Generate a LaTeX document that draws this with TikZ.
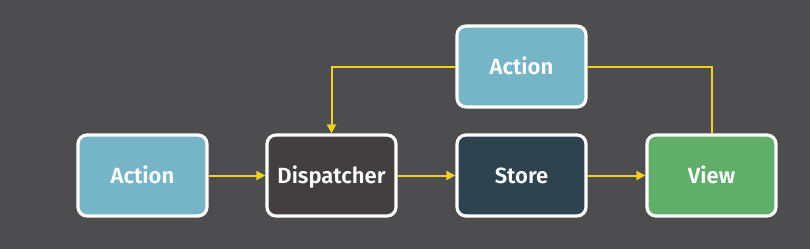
\documentclass[tikz,border=0pt]{standalone}
\usepackage{fontspec}
\setmainfont{Fira Sans}[BoldFont={Fira Sans SemiBold}]
\usetikzlibrary{arrows.meta}
\definecolor{bg}{HTML}{4D4D4F}
\definecolor{actc}{HTML}{76B5C8}
\definecolor{dispc}{HTML}{433F41}
\definecolor{storec}{HTML}{2D4350}
\definecolor{viewc}{HTML}{60AE6A}
\definecolor{yel}{HTML}{F0D020}
\begin{document}
\begin{tikzpicture}[x=1pt,y=-1pt,
  box/.style={draw=white,line width=3.2pt,rounded corners=9pt,minimum width=129pt,minimum height=81pt,inner sep=0pt,text height=15pt,text depth=0pt,text=white,font=\fontsize{22}{26}\selectfont\bfseries},
  conn/.style={draw=yel,line width=2pt,-{Triangle[length=9pt,width=9pt]}},
  line/.style={draw=yel,line width=2pt}]
\fill[bg] (0,0) rectangle (810,249);
\useasboundingbox (0,0) rectangle (810,249);
\node[box,fill=actc] (a1) at (142.5,175.5) {Action};
\node[box,fill=dispc] (d) at (331.5,175.5) {Dispatcher};
\node[box,fill=storec] (s) at (521.5,175.5) {Store};
\node[box,fill=viewc] (v) at (711.5,175.5) {View};
\node[box,fill=actc] (a2) at (521.5,66.5) {Action};
\draw[conn] (a1.east) -- (d.west);
\draw[conn] (d.east) -- (s.west);
\draw[conn] (s.east) -- (v.west);
\draw[conn] (a2.west) -| (d.north);
\draw[line] (a2.east) -| (v.north);
\end{tikzpicture}
\end{document}
